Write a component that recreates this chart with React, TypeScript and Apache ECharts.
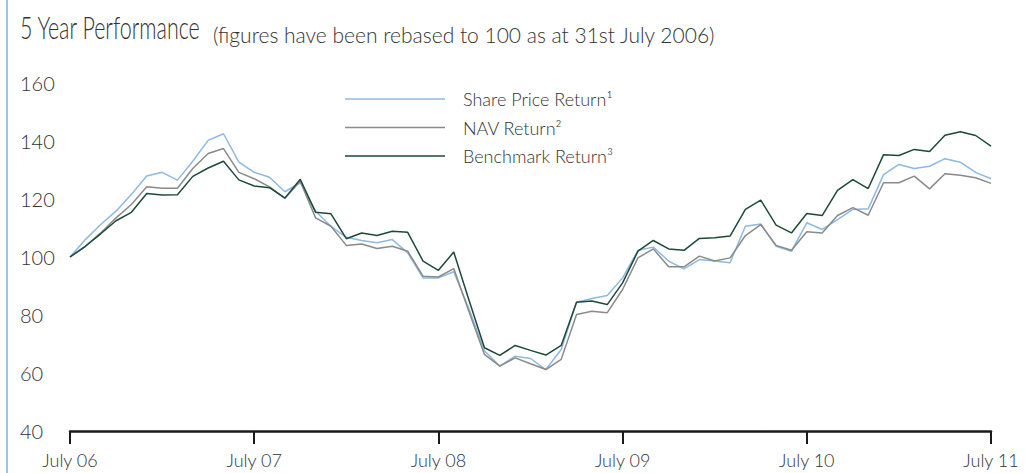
import React, { useEffect, useRef } from "react";
import * as echarts from "echarts";

const tickLabels = ["July 06", "July 07", "July 08", "July 09", "July 10", "July 11"];
const monthNames = ["Jul", "Aug", "Sep", "Oct", "Nov", "Dec", "Jan", "Feb", "Mar", "Apr", "May", "Jun"];
const months: string[] = [];
for (let i = 0; i <= 60; i++) {
  const yr = 6 + Math.floor((i + 6) / 12);
  months.push(monthNames[i % 12] + " " + String(yr).padStart(2, "0"));
}

const shareValues = [100, 106, 111.2, 115.8, 121.6, 127.9, 129.2, 126.5, 133, 140.2, 142.5, 132.7, 129.2, 127.5, 122.5, 125.6,
  115.8, 110.6, 106.8, 105.7, 104.9, 106, 101.4, 92.8, 92.8, 94.9, 82, 67.7, 62.4, 65.8, 65, 61.2,
  68.1, 84.4, 85.7, 86.7, 92.8, 102.3, 103.4, 98.6, 95.9, 99.1, 98.6, 98, 110.6, 111.4, 103.7, 102,
  111.8, 109.5, 112.9, 116.4, 116.6, 128.4, 131.9, 130.5, 131.3, 133.9, 132.7, 129.2, 127];
const navValues = [100, 103.7, 108.3, 113.5, 118.1, 124.2, 123.7, 123.7, 130.5, 135.7, 137.4, 129.2, 127, 124.2, 120.3, 126.1,
  113.5, 110.6, 104, 104.5, 102.9, 103.7, 102, 93.4, 93.1, 96, 81, 66.4, 62.4, 65.2, 63.2, 61.2,
  64.7, 80.2, 81.3, 80.8, 88.8, 99.7, 102.8, 96.6, 96.6, 100.3, 98.6, 99.7, 107.4, 111.2, 104, 102.3,
  108.7, 108.3, 114.3, 117, 114.4, 125.6, 125.6, 127.9, 123.5, 128.7, 128.2, 127.3, 125.4];
const benchmarkValues = [100, 103.7, 108, 112.5, 115.4, 121.9, 121.4, 121.5, 127.8, 130.7, 133, 126.6, 124.5, 123.9, 120.3, 126.8,
  115.4, 114.9, 106.3, 108.3, 107.4, 108.9, 108.5, 98.6, 95.4, 101.7, 85, 68.7, 66.1, 69.5, 67.8, 66.2,
  69.5, 84.4, 84.8, 83.6, 91.1, 102, 105.7, 102.8, 102.3, 106.4, 106.6, 107.2, 116.4, 119.6, 111, 108.3,
  115, 114.3, 123, 126.7, 123.6, 135.3, 135, 137.1, 136.4, 142, 143.2, 141.9, 138.2];

const seriesNames = ["Share Price Return\u00B9", "NAV Return\u00B2", "Benchmark Return\u00B3"];
const seriesColors = ["#8db9e2", "#8a8a8a", "#1d4a37"];

const FONT = "Lato, 'Open Sans', sans-serif";
const TXT = "#333333";

export default function App() {
  const ref = useRef<HTMLDivElement>(null);
  useEffect(() => {
    if (!ref.current) return;
    const chart = echarts.init(ref.current, undefined, { renderer: "svg" });
    const dataSets = [shareValues, navValues, benchmarkValues];
    chart.setOption({
      animation: false,
      backgroundColor: "#ffffff",
      textStyle: { fontFamily: FONT },
      grid: { left: 70, right: 34, top: 83, bottom: 42, containLabel: false },
      legend: {
        orient: "vertical",
        left: 340,
        top: 85,
        itemWidth: 100,
        itemHeight: 1.5,
        itemGap: 10.5,
        icon: "rect",
        data: seriesNames,
        textStyle: { color: TXT, fontSize: 18, fontWeight: 300, fontFamily: FONT, lineHeight: 18, padding: [0, 0, 0, 13] },
      },
      xAxis: {
        type: "category",
        data: months,
        boundaryGap: false,
        axisLine: { show: true, lineStyle: { color: "#1a1a1a", width: 2.5 } },
        axisTick: { show: true, interval: (i: number) => i % 12 === 0, length: 13, lineStyle: { color: "#1a1a1a", width: 2 } },
        axisLabel: {
          interval: (i: number) => i % 12 === 0,
          formatter: (_v: string, i: number) => tickLabels[i / 12] ?? "",
          color: TXT,
          fontSize: 18,
          fontWeight: 300,
          fontFamily: FONT,
          margin: 20,
        },
        splitLine: { show: false },
      },
      yAxis: {
        type: "value",
        min: 40,
        max: 160,
        interval: 20,
        axisLine: { show: false },
        axisTick: { show: false },
        splitLine: { show: false },
        axisLabel: { color: TXT, fontSize: 20, fontWeight: 300, fontFamily: FONT, align: "left", margin: 50 },
      },
      graphic: [
        { type: "rect", shape: { x: 6, y: 0, width: 2, height: 473 }, style: { fill: "#9ec2e6" }, silent: true },
        {
          type: "text",
          x: 20,
          y: 11,
          scaleX: 0.67,
          style: { text: "5 Year Performance", fontSize: 32, fontWeight: 300, fontFamily: FONT, fill: TXT },
        },
        {
          type: "text",
          x: 213,
          y: 24,
          style: { text: "(figures have been rebased to 100 as at 31st July 2006)", fontSize: 21, fontWeight: 300, fontFamily: FONT, fill: TXT },
        },
      ],
      series: dataSets.map((d, k) => ({
        name: seriesNames[k],
        type: "line",
        data: d,
        symbol: "none",
        color: seriesColors[k],
        lineStyle: { width: 1.5, color: seriesColors[k] },
        itemStyle: { color: seriesColors[k] },
      })),
    });
    return () => chart.dispose();
  }, []);
  return <div ref={ref} style={{ position: "absolute", left: 0, top: 0, width: 1025, height: 473 }} />;
}
